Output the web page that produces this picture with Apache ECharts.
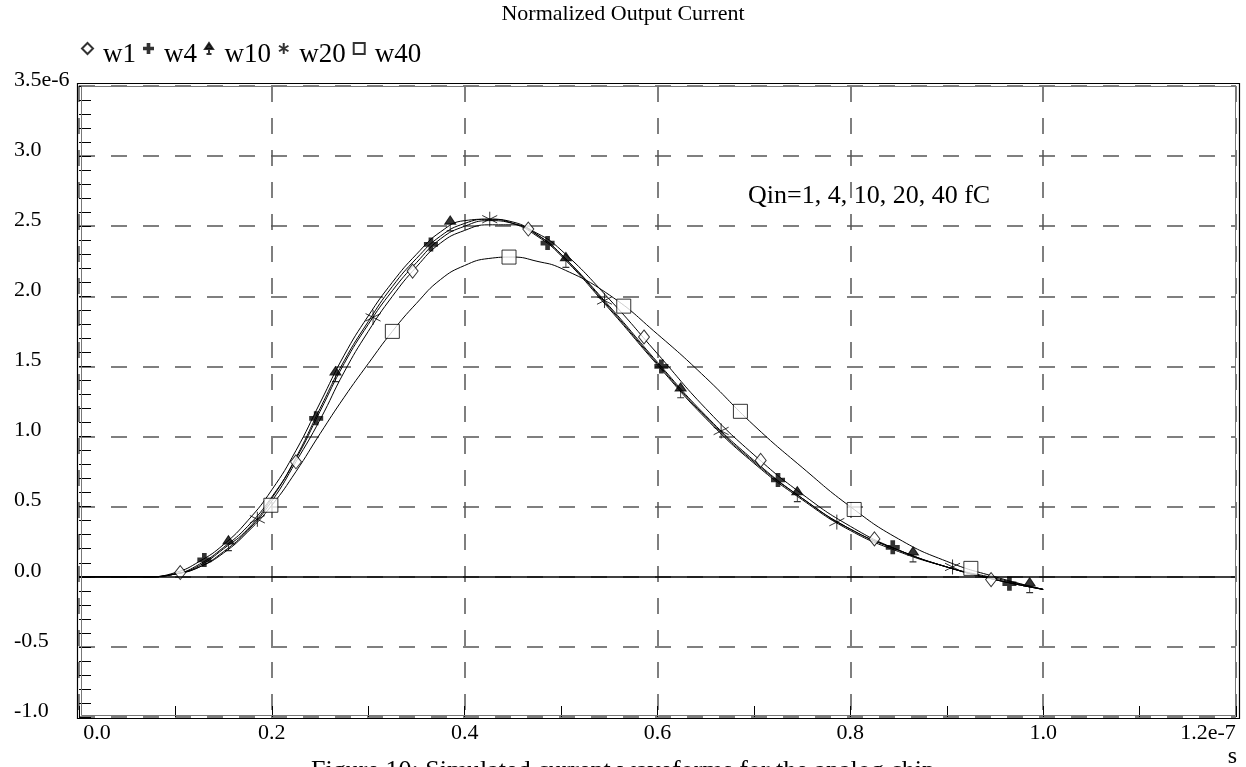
<!DOCTYPE html>
<html>
<head>
<meta charset="utf-8">
<title>Normalized Output Current</title>
<script src="https://cdn.jsdelivr.net/npm/echarts@6/dist/echarts.min.js"></script>
<style>
  html, body { margin: 0; padding: 0; background: #fff; }
  #chart { width: 1246px; height: 767px; }
</style>
</head>
<body>
<div id="chart"></div>
<script>
// tick labels
const xTickLabels = ['0.0', '0.2', '0.4', '0.6', '0.8', '1.0', '1.2e-7'];
const yTickLabels = ['-1.0', '-0.5', '0.0', '0.5', '1.0', '1.5', '2.0', '2.5', '3.0', '3.5e-6'];

// time axis, in units of 1e-7 s
const timeX = [0, 0.05, 0.07, 0.1, 0.125, 0.15, 0.175, 0.2, 0.225, 0.25, 0.275, 0.3, 0.325, 0.35, 0.375,
  0.4, 0.425, 0.45, 0.475, 0.5, 0.55, 0.6, 0.65, 0.7, 0.75, 0.8, 0.85, 0.9, 0.95, 1.0];

// current, in units of 1e-6
const w1Y = [0, 0, 0, 0.02, 0.07, 0.18, 0.33, 0.54, 0.82, 1.12, 1.46, 1.75, 2.00, 2.21, 2.38,
  2.47, 2.51, 2.51, 2.45, 2.33, 1.98, 1.59, 1.20, 0.87, 0.59, 0.36, 0.19, 0.07, -0.02, -0.09];
const w4Y = [0, 0, 0, 0.02, 0.09, 0.21, 0.36, 0.57, 0.84, 1.18, 1.52, 1.80, 2.04, 2.24, 2.41,
  2.50, 2.54, 2.52, 2.44, 2.30, 1.93, 1.53, 1.15, 0.83, 0.56, 0.34, 0.19, 0.07, -0.02, -0.09];
const w10Y = [0, 0, 0, 0.03, 0.11, 0.23, 0.40, 0.62, 0.90, 1.24, 1.58, 1.86, 2.10, 2.30, 2.46,
  2.54, 2.55, 2.52, 2.43, 2.29, 1.91, 1.51, 1.13, 0.81, 0.55, 0.33, 0.18, 0.07, -0.02, -0.09];
const w20Y = [0, 0, 0, 0.02, 0.08, 0.20, 0.34, 0.56, 0.85, 1.20, 1.54, 1.82, 2.07, 2.27, 2.43,
  2.52, 2.55, 2.53, 2.44, 2.30, 1.92, 1.52, 1.14, 0.82, 0.56, 0.34, 0.19, 0.07, -0.01, -0.09];
const w40Y = [0, 0, 0, 0.02, 0.07, 0.17, 0.32, 0.51, 0.75, 1.02, 1.28, 1.52, 1.75, 1.95, 2.12,
  2.22, 2.27, 2.28, 2.25, 2.20, 2.01, 1.73, 1.42, 1.08, 0.78, 0.50, 0.27, 0.11, 0.00, -0.09];

// marker positions [time, current]
const w1Marks = [[0.105, 0.03], [0.225, 0.82], [0.346, 2.18], [0.466, 2.48], [0.586, 1.71], [0.707, 0.83], [0.825, 0.27], [0.946, -0.02]];
const w4Marks = [[0.13, 0.12], [0.246, 1.13], [0.365, 2.37], [0.486, 2.38], [0.604, 1.50], [0.725, 0.69], [0.844, 0.21], [0.965, -0.05]];
const w10Marks = [[0.155, 0.24], [0.266, 1.445], [0.385, 2.52], [0.505, 2.26], [0.624, 1.33], [0.745, 0.59], [0.865, 0.16], [0.986, -0.06]];
const w20Marks = [[0.185, 0.41], [0.305, 1.85], [0.426, 2.55], [0.545, 1.97], [0.666, 1.04], [0.786, 0.39], [0.906, 0.07]];
const w40Marks = [[0.199, 0.51], [0.325, 1.75], [0.446, 2.28], [0.565, 1.93], [0.686, 1.18], [0.804, 0.48], [0.925, 0.06]];

const seriesNames = ['w1', 'w4', 'w10', 'w20', 'w40'];
const seriesY = [w1Y, w4Y, w10Y, w20Y, w40Y];
const seriesMarks = [w1Marks, w4Marks, w10Marks, w20Marks, w40Marks];

const FONT = 'Liberation Serif';

const markerStyles = [
  { symbol: 'diamond', symbolSize: [11, 14], itemStyle: { color: '#fff', borderColor: '#000', borderWidth: 1 } },
  { symbol: 'path://M4,0 L8,0 L8,4 L12,4 L12,8 L8,8 L8,12 L4,12 L4,8 L0,8 L0,4 L4,4 Z', symbolSize: 14, itemStyle: { color: '#000' } },
  { symbol: 'path://M1,6 L5,0 L9,6 Z M5,6 L5,11 M2.5,11 L7.5,11', symbolSize: [11, 15], itemStyle: { color: '#000', borderColor: '#000', borderWidth: 1 } },
  { symbol: 'path://M5,0 L5,10 M0.7,2.5 L9.3,7.5 M0.7,7.5 L9.3,2.5', symbolSize: 15, itemStyle: { color: 'rgba(0,0,0,0)', borderColor: '#000', borderWidth: 1 } },
  { symbol: 'rect', symbolSize: 14, itemStyle: { color: '#fff', borderColor: '#000', borderWidth: 1 } }
];

const zip = (xs, ys) => xs.map((x, i) => [x, ys[i]]);

const chart = echarts.init(document.getElementById('chart'));

const series = [];
seriesNames.forEach((name, i) => {
  series.push({
    name: name + ' curve',
    type: 'line',
    data: zip(timeX, seriesY[i]),
    smooth: 0.5,
    showSymbol: false,
    lineStyle: { color: '#000', width: 1 },
    z: 2,
    markLine: i === 4 ? {
      silent: true,
      symbol: 'none',
      label: { show: false },
      lineStyle: { color: '#000', type: 'solid', width: 1.5 },
      data: [{ yAxis: 0 }]
    } : undefined
  });
});
seriesNames.forEach((name, i) => {
  series.push(Object.assign({
    name: name,
    type: 'scatter',
    data: seriesMarks[i],
    z: 4
  }, markerStyles[i]));
});

const option = {
  animation: false,
  backgroundColor: '#fff',
  title: [
    {
      text: 'Normalized Output Current',
      left: 'center', top: 3, padding: 0,
      textStyle: { fontFamily: FONT, fontSize: 22, fontWeight: 'normal', color: '#000' }
    },
    {
      text: 'Qin=1, 4, 10, 20, 40 fC',
      left: 748, top: 183, padding: 0,
      textStyle: { fontFamily: FONT, fontSize: 26, fontWeight: 'normal', color: '#000' }
    },
    {
      text: 'Figure 10: Simulated current waveforms for the analog chip',
      left: 'center', top: 758, padding: 0,
      textStyle: { fontFamily: FONT, fontSize: 26, fontWeight: 'normal', color: '#000' }
    },
    {
      text: 's',
      right: 9, top: 745, padding: 0,
      textStyle: { fontFamily: FONT, fontSize: 24, fontWeight: 'normal', color: '#000' }
    }
  ],
  legend: {
    data: seriesNames,
    left: 76, top: 36,
    selectedMode: false,
    itemWidth: 11, itemHeight: 11, itemGap: 7,
    formatter: (name) => '{t|' + name + '}',
    textStyle: {
      fontFamily: FONT, fontSize: 27, color: '#000',
      rich: { t: { fontFamily: FONT, fontSize: 27, color: '#000', padding: [12, 0, 0, 5] } }
    }
  },
  grid: { left: 79, right: 10, top: 86, bottom: 50 },
  xAxis: [
    {
      type: 'value',
      min: 0, max: 1.2, interval: 0.2,
      axisLine: { show: false, onZero: false },
      axisTick: { show: false },
      splitLine: { show: true, lineStyle: { color: '#555', width: 1.5, type: [16, 16] } },
      axisLabel: {
        margin: 5,
        fontFamily: FONT, fontSize: 22, color: '#000',
        formatter: (v) => {
          const i = Math.round(v / 0.2);
          const t = xTickLabels[i];
          if (i === 0) return '{first|' + t + '}';
          if (i === xTickLabels.length - 1) return '{last|' + t + '}';
          return t;
        },
        rich: {
          first: { fontFamily: FONT, fontSize: 22, color: '#000', padding: [0, 0, 0, 36] },
          last: { fontFamily: FONT, fontSize: 22, color: '#000', padding: [0, 56, 0, 0] }
        }
      }
    },
    {
      // short ticks every 0.1 along the bottom edge
      type: 'value',
      position: 'bottom',
      min: 0, max: 1.2, interval: 0.1,
      axisLine: { show: false, onZero: false },
      axisTick: { show: true, inside: true, length: 11, lineStyle: { color: '#000' } },
      axisLabel: { show: false },
      splitLine: { show: false }
    }
  ],
  yAxis: {
    type: 'value',
    min: -1, max: 3.5, interval: 0.5,
    axisLine: { show: false, onZero: false },
    axisTick: { show: true, inside: true, length: 12, lineStyle: { color: '#000' } },
    minorTick: { show: true, splitNumber: 5, length: 12, lineStyle: { color: '#000' } },
    splitLine: { show: true, lineStyle: { color: '#555', width: 1.5, type: [16, 16] } },
    axisLabel: {
      margin: 65,
      align: 'left',
      verticalAlign: 'bottom',
      lineHeight: 12,
      fontFamily: FONT, fontSize: 22, color: '#000',
      formatter: (v) => yTickLabels[Math.round((v + 1) / 0.5)]
    }
  },
  graphic: [
    {
      type: 'rect', silent: true, z: 10,
      shape: { x: 77.5, y: 83.5, width: 1162, height: 635 },
      style: { fill: 'none', stroke: '#000', lineWidth: 1.2 }
    },
    {
      type: 'rect', silent: true, z: 10,
      shape: { x: 81.5, y: 86.5, width: 1154, height: 629 },
      style: { fill: 'none', stroke: '#777', lineWidth: 1 }
    }
  ],
  series: series
};

chart.setOption(option);
</script>
</body>
</html>
